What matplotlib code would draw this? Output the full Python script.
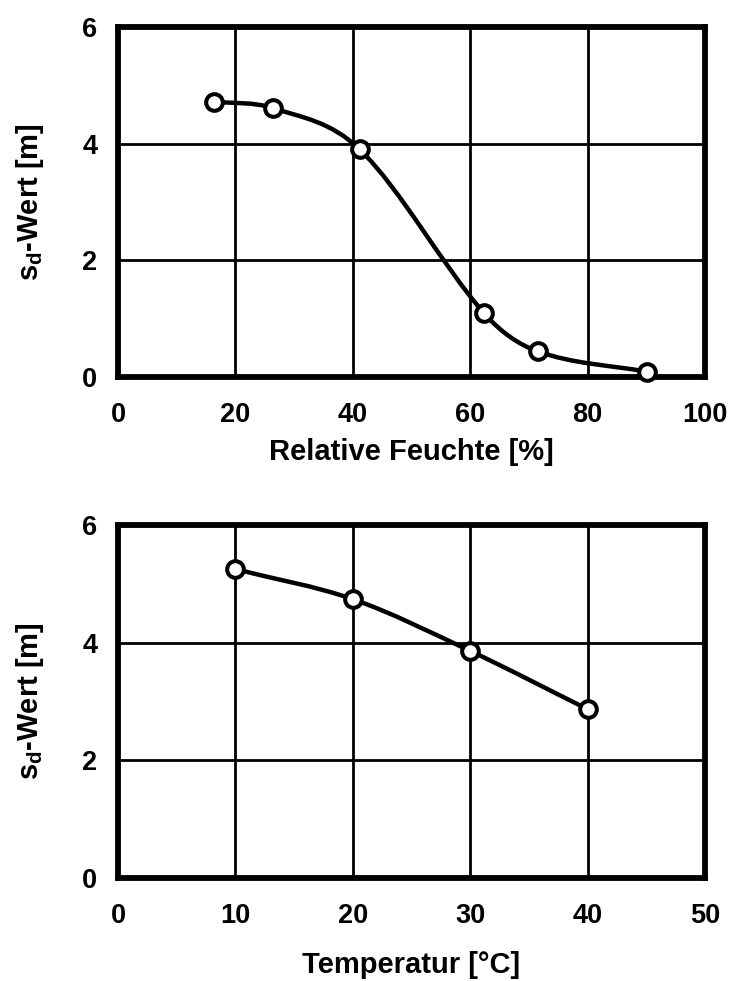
import numpy as np
import matplotlib
matplotlib.use("Agg")
import matplotlib.pyplot as plt
from matplotlib.path import Path
from matplotlib.patches import PathPatch

# Daten
feuchte = [16.3, 26.4, 41.2, 62.4, 71.5, 90.1]
sd_feuchte = [4.72, 4.61, 3.90, 1.09, 0.44, 0.09]

temperatur = [10, 20, 30, 40]
sd_temp = [5.25, 4.74, 3.86, 2.87]

plt.rcParams['font.family'] = ['Liberation Sans', 'DejaVu Sans']
plt.rcParams['font.weight'] = 'bold'
plt.rcParams['mathtext.fontset'] = 'custom'
plt.rcParams['mathtext.rm'] = 'Liberation Sans:bold'
plt.rcParams['mathtext.it'] = 'Liberation Sans:bold'


def smooth_path(x, y):
    # geglaettete Verbindungslinie als Bezier-Segmente (Steigung aus Nachbarpunkten)
    x = np.asarray(x, float)
    y = np.asarray(y, float)
    n = len(x)
    m = np.empty(n)
    for i in range(n):
        a = max(i - 1, 0)
        b = min(i + 1, n - 1)
        m[i] = (y[b] - y[a]) / (x[b] - x[a])
    verts = [(x[0], y[0])]
    codes = [Path.MOVETO]
    for i in range(n - 1):
        h = (x[i + 1] - x[i]) / 3
        verts += [(x[i] + h, y[i] + h * m[i]),
                  (x[i + 1] - h, y[i + 1] - h * m[i + 1]),
                  (x[i + 1], y[i + 1])]
        codes += [Path.CURVE4] * 3
    return Path(verts, codes)


def style(ax, xmax, xstep, xlabel, labelpad):
    ax.set_xlim(0, xmax)
    ax.set_ylim(0, 6)
    ax.set_xticks(np.arange(0, xmax + 1, xstep))
    ax.set_yticks([0, 2, 4, 6])
    ax.grid(True, color='black', linewidth=2)
    ax.set_axisbelow(True)
    for s in ax.spines.values():
        s.set_linewidth(4.2)
    ax.tick_params(length=0, labelsize=19.5)
    ax.tick_params(axis='x', pad=18)
    ax.tick_params(axis='y', pad=15)
    ax.set_xlabel(xlabel, fontsize=21, fontweight='bold', labelpad=labelpad)
    ax.set_ylabel(r'$\mathrm{s_d}$-Wert [m]', fontsize=21, fontweight='bold', labelpad=26)


fig = plt.figure(figsize=(7.30, 9.81), dpi=100)
ax1 = fig.add_axes([0.1616, 0.6157, 0.8041, 0.3568])
ax2 = fig.add_axes([0.1616, 0.1050, 0.8041, 0.3598])

for ax, x, y in [(ax1, feuchte, sd_feuchte), (ax2, temperatur, sd_temp)]:
    ax.add_patch(PathPatch(smooth_path(x, y), facecolor='none', edgecolor='black',
                           linewidth=3.2, capstyle='round', zorder=3))
    ax.plot(x, y, linestyle='none', marker='o', markersize=12,
            markerfacecolor='white', markeredgecolor='black',
            markeredgewidth=2.9, zorder=4, clip_on=False)

style(ax1, 100, 20, 'Relative Feuchte [%]', 7)
style(ax2, 50, 10, 'Temperatur [°C]', 16)

fig.savefig('out.png', dpi=100)
